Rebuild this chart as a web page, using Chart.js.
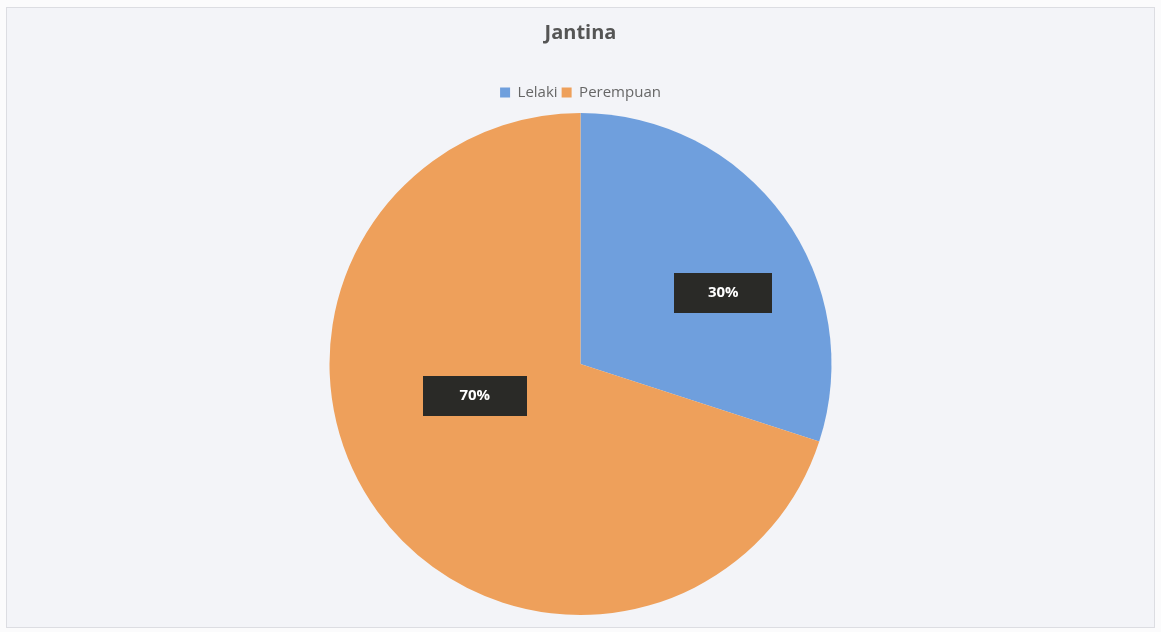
<!DOCTYPE html>
<html>
<head>
<meta charset="utf-8">
<script src="https://cdn.jsdelivr.net/npm/chart.js@4.4.1/dist/chart.umd.min.js"></script>
<style>
  html, body { margin: 0; padding: 0; background: #fbfbfc; }
  #wrap { width: 1161px; height: 632px; position: relative; }
  canvas { display: block; }
</style>
</head>
<body>
<div id="wrap"><canvas id="c" width="1161" height="632"></canvas></div>
<script>
// Gender breakdown
const categories = ['Lelaki', 'Perempuan'];
const shares = [30, 70];
const sliceColors = ['#6F9FDD', '#EEA05B'];

// Sheet-like background with a faint frame
const paperPlugin = {
  id: 'paper',
  beforeDraw(chart) {
    const ctx = chart.ctx;
    ctx.save();
    ctx.fillStyle = '#fbfbfc';
    ctx.fillRect(0, 0, chart.width, chart.height);
    ctx.fillStyle = '#f3f4f8';
    ctx.fillRect(6, 7, chart.width - 12, chart.height - 11);
    ctx.strokeStyle = '#dcdde2';
    ctx.lineWidth = 1;
    ctx.strokeRect(6.5, 7.5, chart.width - 13, chart.height - 12);
    ctx.restore();
  }
};

// Extra room under the legend row
const legendGap = {
  id: 'legendGap',
  beforeInit(chart) {
    const lg = chart.legend;
    if (!lg) return;
    const fit = lg.fit;
    lg.fit = function () {
      fit.call(this);
      this.height += 3;
    };
  }
};

// Dark boxed percentage labels placed inside each slice
const boxLabels = {
  id: 'boxLabels',
  afterDatasetsDraw(chart, args, opts) {
    const ctx = chart.ctx;
    const meta = chart.getDatasetMeta(0);
    const data = chart.data.datasets[0].data;
    const total = data.reduce((a, b) => a + b, 0);
    meta.data.forEach((arc, i) => {
      const p = arc.getProps(['x', 'y', 'startAngle', 'endAngle', 'outerRadius'], true);
      const a = opts.anchors[i];
      const ang = (p.startAngle + p.endAngle) / 2 + a.shift * Math.PI / 180;
      const r = p.outerRadius * a.f;
      const cx = p.x + Math.cos(ang) * r;
      const cy = p.y + Math.sin(ang) * r;
      const w = a.w, h = opts.boxH;
      ctx.save();
      ctx.fillStyle = '#2a2a27';
      ctx.fillRect(Math.round(cx - w / 2), Math.round(cy - h / 2), w, h);
      ctx.fillStyle = '#ffffff';
      ctx.font = 'bold 15px "Open Sans", Lato, sans-serif';
      ctx.textAlign = 'center';
      ctx.textBaseline = 'middle';
      ctx.fillText(Math.round(data[i] / total * 100) + '%', cx, cy);
      ctx.restore();
    });
  }
};

new Chart(document.getElementById('c'), {
  type: 'pie',
  data: {
    labels: categories,
    datasets: [{
      data: shares,
      backgroundColor: sliceColors,
      borderWidth: 0
    }]
  },
  options: {
    responsive: false,
    animation: false,
    events: [],
    layout: { padding: { bottom: 17 } },
    plugins: {
      title: {
        display: true,
        text: 'Jantina',
        color: '#555555',
        font: { family: '"Open Sans", Lato, sans-serif', size: 20, weight: 'bold' },
        padding: { top: 21, bottom: 36 }
      },
      legend: {
        display: true,
        position: 'top',
        labels: {
          boxWidth: 10,
          boxHeight: 10,
          padding: 4,
          color: '#666666',
          font: { family: '"Open Sans", Lato, sans-serif', size: 15 }
        }
      },
      tooltip: { enabled: false },
      boxLabels: {
        boxH: 40,
        anchors: [{ f: 0.635, shift: 9.6, w: 98 }, { f: 0.44, shift: 19.2, w: 104 }]
      }
    }
  },
  plugins: [paperPlugin, legendGap, boxLabels]
});
</script>
</body>
</html>
